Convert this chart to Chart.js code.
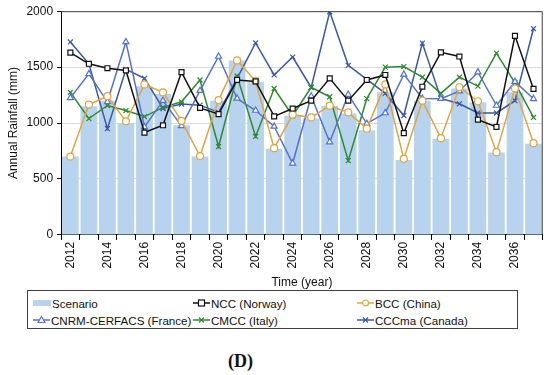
<!DOCTYPE html>
<html lang="en">
<head>
  <meta charset="UTF-8" />
  <title>Annual Rainfall</title>
  <script src="https://cdn.jsdelivr.net/npm/chart.js"></script>
  <style>
    body {
      margin: 0;
      background: #fff;
      font-family: 'Liberation Sans', Arial, sans-serif;
      width: 550px;
      height: 375px;
      position: relative;
      overflow: hidden;
    }

    .chart-wrapper {
      position: absolute;
      left: 0;
      top: 0;
      width: 550px;
      height: 290px;
    }

    #legend {
      position: absolute;
      left: 27px;
      top: 290px;
      width: 489px;
      height: 37px;
      border: 1px solid #404040;
    }

    .legend-item {
      position: absolute;
      display: flex;
      align-items: center;
      font-size: 11.6px;
      color: #111;
      height: 16px;
      white-space: nowrap;
    }

    .legend-item svg {
      margin-right: 1px;
    }

    .caption {
      position: absolute;
      left: 0;
      width: 481px;
      top: 351px;
      text-align: center;
      font-family: 'Liberation Serif', 'Times New Roman', serif;
      font-weight: bold;
      font-size: 18px;
      color: #111;
    }
  </style>
</head>
<body>

  <div class="chart-wrapper">
    <canvas id="rainChart"></canvas>
  </div>
  <div id="legend"></div>
  <div class="caption">(D)</div>

  <script>
    // datos
    const years = ['2012', '2013', '2014', '2015', '2016', '2017', '2018', '2019', '2020', '2021', '2022', '2023', '2024',
                   '2025', '2026', '2027', '2028', '2029', '2030', '2031', '2032', '2033', '2034', '2035', '2036', '2037'];

    const scenario = [700, 1150, 1200, 1000, 1330, 1260, 980, 700, 1200, 1560, 1365, 770, 1065,
                      1040, 1155, 1085, 935, 1275, 670, 1200, 860, 1310, 1185, 736, 1275, 815];
    const ncc = [1630, 1530, 1490, 1470, 915, 980, 1455, 1135, 1080, 1385, 1372, 1060, 1130,
                 1200, 1400, 1200, 1385, 1430, 910, 1325, 1632, 1595, 1030, 965, 1780, 1305];
    const bcc = [700, 1165, 1240, 1015, 1345, 1275, 1020, 705, 1205, 1560, 1375, 775, 1075,
                 1050, 1155, 1095, 950, 1345, 680, 1200, 865, 1320, 1195, 740, 1310, 820];
    const cnrm = [1225, 1440, 1190, 1725, 965, 1200, 975, 1290, 1595, 1220, 1112, 970, 640,
                  1240, 830, 1255, 995, 1090, 1435, 1220, 1218, 1285, 1455, 1157, 1370, 1217];
    const cmcc = [1275, 1040, 1157, 1112, 1058, 1140, 1190, 1385, 790, 1420, 880, 1309, 1065,
                  1320, 1235, 664, 1218, 1500, 1505, 1410, 1265, 1410, 1330, 1625, 1360, 1050];
    const cccma = [1725, 1530, 950, 1480, 1400, 1130, 1170, 1160, 1095, 1400, 1716, 1430, 1590,
                   1318, 1995, 1516, 1390, 1265, 1067, 1715, 1220, 1172, 1090, 1090, 1200, 1845];

    const yTicks = [0, 500, 1000, 1500, 2000];

    Chart.defaults.font.family = "'Liberation Sans', Arial, sans-serif";
    Chart.defaults.font.size = 12;
    Chart.defaults.color = '#111';

    function lineSet(label, data, color, pointStyle) {
      return {
        type: 'line',
        label: label,
        data: data,
        borderColor: color,
        borderWidth: 1.5,
        pointStyle: pointStyle,
        pointRadius: 3.5,
        pointBorderWidth: 1.2,
        pointBorderColor: color,
        pointBackgroundColor: '#fff',
        tension: 0,
        order: 1
      };
    }

    const series = [
      { label: 'Scenario', data: scenario, color: '#B7D3EE', style: 'bar' },
      { label: 'NCC (Norway)', data: ncc, color: '#111111', style: 'rect' },
      { label: 'BCC (China)', data: bcc, color: '#E0A443', style: 'circle' },
      { label: 'CNRM-CERFACS (France)', data: cnrm, color: '#5672CF', style: 'triangle' },
      { label: 'CMCC (Italy)', data: cmcc, color: '#2F8A2F', style: 'crossRot' },
      { label: 'CCCma (Canada)', data: cccma, color: '#3A58A8', style: 'crossRot' }
    ];

    const datasets = series.map(s => {
      if (s.style === 'bar') {
        return {
          type: 'bar',
          label: s.label,
          data: s.data,
          backgroundColor: s.color,
          barPercentage: 0.9,
          categoryPercentage: 1.0,
          order: 10
        };
      }
      return lineSet(s.label, s.data, s.color, s.style);
    });

    // marco del área del gráfico
    const frame = {
      id: 'frame',
      afterDraw(chart) {
        const a = chart.chartArea;
        const ctx = chart.ctx;
        ctx.save();
        ctx.strokeStyle = '#404040';
        ctx.lineWidth = 1;
        ctx.beginPath();
        ctx.moveTo(a.left, a.top + 0.5);
        ctx.lineTo(a.right - 0.5, a.top + 0.5);
        ctx.lineTo(a.right - 0.5, a.bottom);
        ctx.stroke();
        ctx.restore();
      }
    };

    new Chart(document.getElementById('rainChart'), {
      type: 'bar',
      data: { labels: years, datasets: datasets },
      options: {
        responsive: true,
        maintainAspectRatio: false,
        animation: false,
        layout: { padding: { top: 4, right: 1, left: 6 } },
        plugins: {
          legend: { display: false },
          tooltip: { enabled: false }
        },
        scales: {
          x: {
            offset: true,
            grid: {
              offset: true,
              drawOnChartArea: false,
              tickColor: '#000',
              tickLength: 5
            },
            border: { color: '#000' },
            ticks: {
              autoSkip: false,
              maxRotation: 90,
              minRotation: 90,
              padding: 2,
              callback: (v, i) => (i % 2 === 0 ? years[i] : '')
            },
            title: {
              display: true,
              text: 'Time (year)',
              padding: { top: 5, bottom: 0 }
            }
          },
          y: {
            min: yTicks[0],
            max: yTicks[yTicks.length - 1],
            afterBuildTicks: axis => { axis.ticks = yTicks.map(v => ({ value: v })); },
            grid: {
              color: '#D9D9D9',
              tickColor: '#000',
              tickLength: 4
            },
            border: { color: '#000' },
            ticks: {
              padding: 4,
              callback: v => String(v)
            },
            title: {
              display: true,
              text: 'Annual Rainfall (mm)',
              padding: { top: 0, bottom: 2 }
            }
          }
        }
      },
      plugins: [frame]
    });

    // leyenda
    const legend = document.getElementById('legend');
    const colX = [5, 165, 329];
    const rowY = [4, 21];

    function markerSvg(s) {
      const c = s.color;
      let m = '';
      if (s.style === 'bar') {
        return `<svg width="18" height="12"><rect x="0" y="3" width="18" height="6" fill="${c}"/></svg>`;
      }
      if (s.style === 'rect') m = `<rect x="5.5" y="3" width="6" height="6" fill="#fff" stroke="${c}" stroke-width="1.2"/>`;
      if (s.style === 'circle') m = `<circle cx="8.5" cy="6" r="3" fill="#fff" stroke="${c}" stroke-width="1.2"/>`;
      if (s.style === 'triangle') m = `<polygon points="8.5,2.5 12,8.5 5,8.5" fill="#fff" stroke="${c}" stroke-width="1.2"/>`;
      if (s.style === 'crossRot') m = `<path d="M6 3.5 L11 8.5 M11 3.5 L6 8.5" stroke="${c}" stroke-width="1.2"/>`;
      return `<svg width="17" height="12"><line x1="0" y1="6" x2="17" y2="6" stroke="${c}" stroke-width="1.5"/>${m}</svg>`;
    }

    series.forEach((s, i) => {
      const item = document.createElement('div');
      item.className = 'legend-item';
      item.style.left = colX[i % 3] + 'px';
      item.style.top = rowY[Math.floor(i / 3)] + 'px';
      item.innerHTML = markerSvg(s);
      item.appendChild(document.createTextNode(s.label));
      legend.appendChild(item);
    });
  </script>
</body>
</html>
